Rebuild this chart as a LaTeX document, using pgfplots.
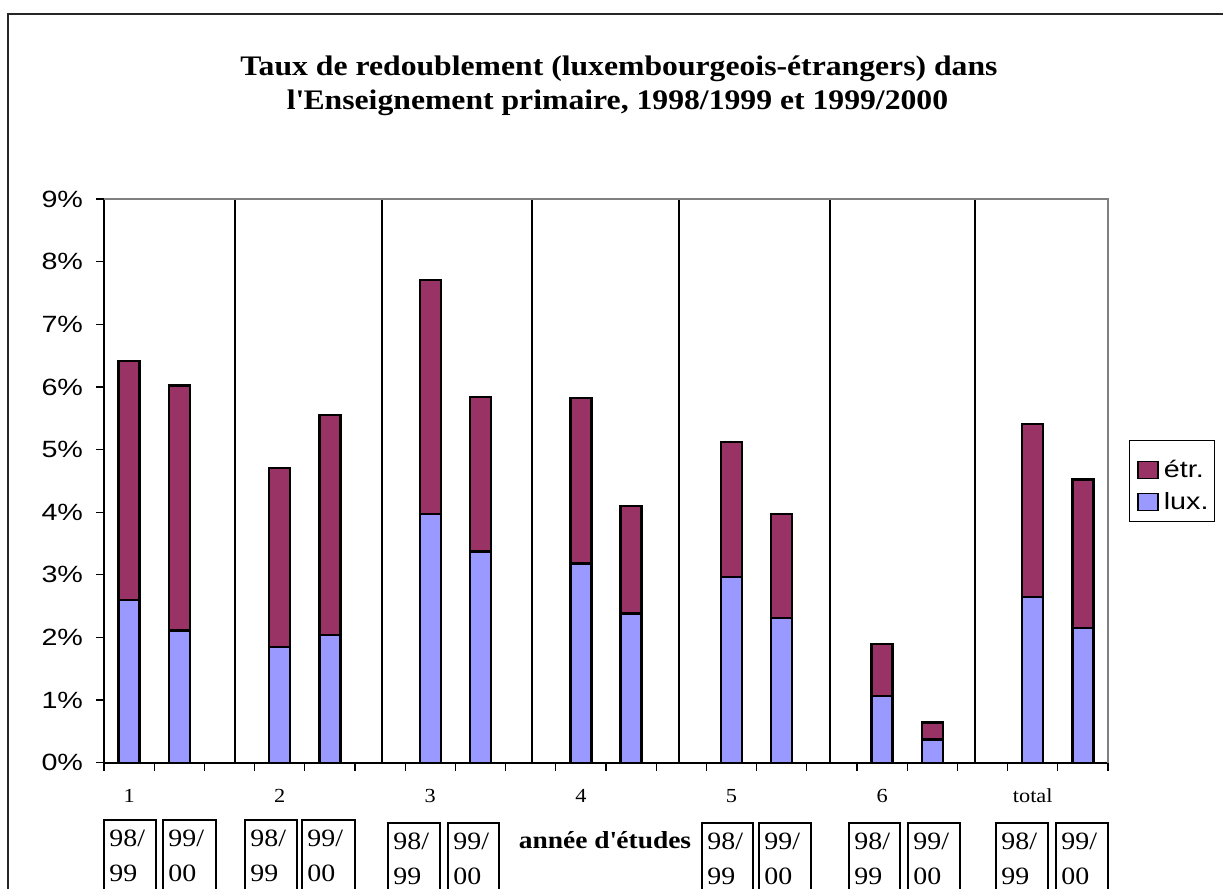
\documentclass[border=0pt]{standalone}
\usepackage{pgfplots}
\pgfplotsset{compat=1.18}
\usepackage{fontspec}
\setmainfont[FakeStretch=1.12]{Liberation Serif}
\newfontfamily\arialS[FakeStretch=1.22]{Liberation Sans}
\definecolor{lux}{HTML}{9999FF}
\definecolor{etr}{HTML}{993366}
\begin{document}
\begin{tikzpicture}
\begin{axis}[
  at={(0,0)}, anchor=south west,
  scale only axis, width=502bp, height=281.85bp,
  xmin=0, xmax=20, ymin=0, ymax=9,
  ybar stacked, bar width=10.5bp,
  axis lines*=left,
  axis line style={black, line width=0.8bp},
  clip=false,
  xtick={0,1,...,20}, xticklabels={},
  ytick={0,1,...,9},
  yticklabels={0\%,1\%,2\%,3\%,4\%,5\%,6\%,7\%,8\%,9\%},
  yticklabel style={font=\arialS\fontsize{11.8}{13}\selectfont, xshift=-3bp},
  tick align=outside, major tick length=4bp,
  tick style={black, line width=0.6bp},
  extra x ticks={0.5,3.5,6.5,9.5,12.5,15.5,18.5},
  extra x tick labels={1,2,3,4,5,6,total},
  extra x tick style={grid=none, major tick length=0pt, xticklabel style={anchor=base, yshift=-20bp, font=\fontsize{10}{11}\selectfont}},
  minor xtick={2.6,5.53,8.52,11.45,14.46,17.35},
  minor tick length=0pt,
  xminorgrids=true,
  minor grid style={black, line width=1bp},
  legend style={draw=none, fill=none, at={(axis description cs:1.0289,0.491)}, anchor=west,
    font=\arialS\fontsize{11.8}{13}\selectfont, row sep=4bp, inner sep=0pt, nodes={inner sep=1bp},
    /tikz/every even column/.append style={column sep=0pt}},
  reverse legend,
  legend cell align=left,
  legend image code/.code={\draw[#1,line width=0.7bp] (0bp,-4.2bp) rectangle (10bp,4.2bp);},
]
\addplot[fill=lux, draw=black, line width=1.2bp] coordinates {(0.5,2.60) (1.5,2.11) (3.5,1.85) (4.5,2.04) (6.5,3.97) (7.5,3.37) (9.5,3.18) (10.5,2.38) (12.5,2.97) (13.5,2.31) (15.5,1.07) (16.5,0.37) (18.5,2.65) (19.5,2.15)};
\addplot[fill=etr, draw=black, line width=1.2bp] coordinates {(0.5,3.81) (1.5,3.91) (3.5,2.86) (4.5,3.51) (6.5,3.74) (7.5,2.47) (9.5,2.64) (10.5,1.72) (12.5,2.15) (13.5,1.66) (15.5,0.83) (16.5,0.27) (18.5,2.76) (19.5,2.37)};
\legend{\hspace{1.5bp}lux.,\hspace{1.5bp}étr.}
\draw[color=gray, line width=1bp] (rel axis cs:0,1) -- (rel axis cs:1,1) -- (rel axis cs:1,0);
\end{axis}
\begin{scope}[x=0.5bp, y=-0.5bp, shift={(-52bp,381.35bp)}]
\useasboundingbox (0,0) rectangle (1223,888);
\draw[line width=0.8bp, black!85] (1240,14) -- (8,14) -- (8,900);
\node[anchor=base, font=\bfseries\fontsize{14.2}{16}\selectfont] at (619,76) {Taux de redoublement (luxembourgeois-étrangers) dans};
\node[anchor=base, font=\bfseries\fontsize{14.2}{16}\selectfont] at (617.5,110) {l\textquotesingle Enseignement primaire, 1998/1999 et 1999/2000};
\draw[line width=0.5bp] (1129,440) rectangle (1214,521);
\foreach \l/\r/\t/\a/\b in {104/156/820/98/99, 163/216/820/99/00, 245/297/820/98/99, 302/355/820/99/00, 388/440/823/98/99, 448/499/823/99/00, 702/753/823/98/99, 759/811/823/99/00, 849/900/823/98/99, 908/960/823/99/00, 996/1048/823/98/99, 1056/1108/823/99/00}{
  \draw[line width=1bp] (\l,900) -- (\l,\t) -- (\r,\t) -- (\r,900);
  \node[anchor=base west, inner sep=0pt, font=\fontsize{12.5}{14}\selectfont] at (\l+5,\t+26) {\a/};
  \node[anchor=base west, inner sep=0pt, font=\fontsize{12.5}{14}\selectfont] at (\l+5,\t+61) {\b};
}
\node[anchor=base, font=\bfseries\fontsize{12.3}{14}\selectfont] at (605,848) {année d\textquotesingle études};
\end{scope}
\end{tikzpicture}
\end{document}
